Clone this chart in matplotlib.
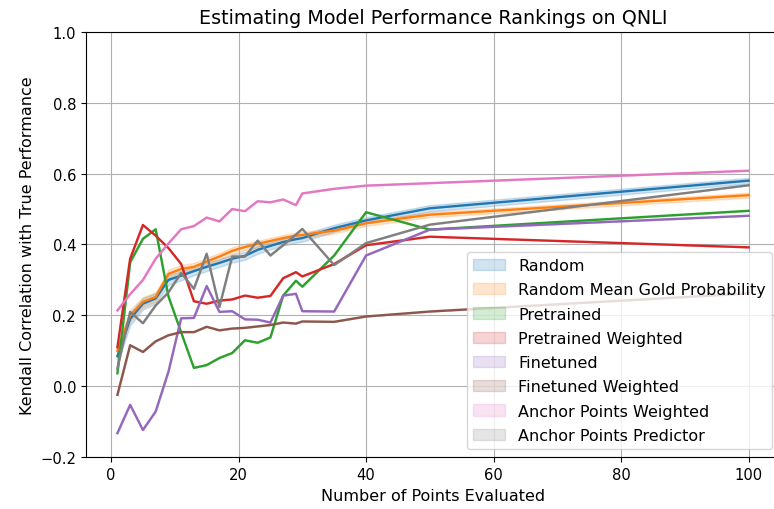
import numpy as np
import matplotlib
matplotlib.use("Agg")
from matplotlib import pyplot as plt

# number of points evaluated
n_points = [1, 3, 5, 7, 9, 11, 13, 15, 17, 19, 21, 23, 25, 27, 29, 30, 35, 40, 50, 100]

random_mean = [0.085, 0.19, 0.233, 0.248, 0.300, 0.312, 0.325, 0.337, 0.348, 0.360,
               0.368, 0.385, 0.396, 0.407, 0.415, 0.418, 0.446, 0.468, 0.502, 0.580]
random_err = [0.02, 0.018, 0.016, 0.015, 0.014, 0.013, 0.012, 0.012, 0.011, 0.011,
              0.011, 0.011, 0.010, 0.010, 0.010, 0.010, 0.010, 0.009, 0.009, 0.008]

gold_mean = [0.10, 0.20, 0.238, 0.252, 0.317, 0.331, 0.337, 0.352, 0.366, 0.382,
             0.393, 0.402, 0.410, 0.418, 0.425, 0.427, 0.439, 0.460, 0.484, 0.539]
gold_err = [0.018, 0.016, 0.014, 0.013, 0.012, 0.011, 0.011, 0.010, 0.010, 0.010,
            0.009, 0.009, 0.009, 0.009, 0.008, 0.008, 0.008, 0.008, 0.007, 0.007]

pretrained = [0.037, 0.35, 0.416, 0.443, 0.254, 0.152, 0.052, 0.06, 0.08, 0.094,
              0.13, 0.123, 0.138, 0.256, 0.298, 0.281, 0.369, 0.491, 0.442, 0.495]
pretrained_weighted = [0.11, 0.36, 0.455, 0.425, 0.39, 0.345, 0.24, 0.233, 0.242, 0.245,
                       0.256, 0.25, 0.255, 0.305, 0.322, 0.31, 0.345, 0.398, 0.422, 0.392]
finetuned = [-0.132, -0.052, -0.123, -0.071, 0.041, 0.192, 0.193, 0.283, 0.21, 0.212,
             0.189, 0.188, 0.18, 0.256, 0.261, 0.212, 0.211, 0.369, 0.442, 0.481]
finetuned_weighted = [-0.024, 0.116, 0.097, 0.127, 0.144, 0.153, 0.153, 0.168, 0.158, 0.163,
                      0.165, 0.169, 0.173, 0.18, 0.177, 0.183, 0.182, 0.197, 0.211, 0.262]
anchor_weighted = [0.214, 0.26, 0.30, 0.36, 0.403, 0.443, 0.452, 0.476, 0.465, 0.5,
                   0.494, 0.522, 0.519, 0.527, 0.511, 0.544, 0.557, 0.566, 0.573, 0.608]
anchor_predictor = [0.05, 0.21, 0.178, 0.228, 0.265, 0.32, 0.275, 0.374, 0.224, 0.366,
                    0.366, 0.411, 0.369, 0.398, 0.428, 0.444, 0.342, 0.404, 0.456, 0.567]

series = [
    ("Random", random_mean, random_err),
    ("Random Mean Gold Probability", gold_mean, gold_err),
    ("Pretrained", pretrained, None),
    ("Pretrained Weighted", pretrained_weighted, None),
    ("Finetuned", finetuned, None),
    ("Finetuned Weighted", finetuned_weighted, None),
    ("Anchor Points Weighted", anchor_weighted, None),
    ("Anchor Points Predictor", anchor_predictor, None),
]

fig = plt.figure(figsize=(7.74, 5.10), dpi=100)
ax = fig.add_axes([0.1109, 0.1014, 0.897, 0.8345])

x = np.array(n_points)
for i, (name, mean, err) in enumerate(series):
    color = "C%d" % i
    mean = np.array(mean)
    err = np.zeros_like(mean) if err is None else np.array(err)
    ax.plot(x, mean, color=color, linewidth=1.7)
    ax.fill_between(x, mean - err, mean + err, color=color, alpha=0.2, label=name)

ax.set_ylim(-0.2, 1.0)
ax.grid(True)
ax.tick_params(labelsize=10.6)
ax.set_title("Estimating Model Performance Rankings on QNLI", fontsize=13.8)
ax.set_xlabel("Number of Points Evaluated", fontsize=11.5)
ax.set_ylabel("Kendall Correlation with True Performance", fontsize=11.5)
ax.legend(loc="lower right", fontsize=11.5, labelspacing=0.58)

fig.savefig("out.png", dpi=100)
